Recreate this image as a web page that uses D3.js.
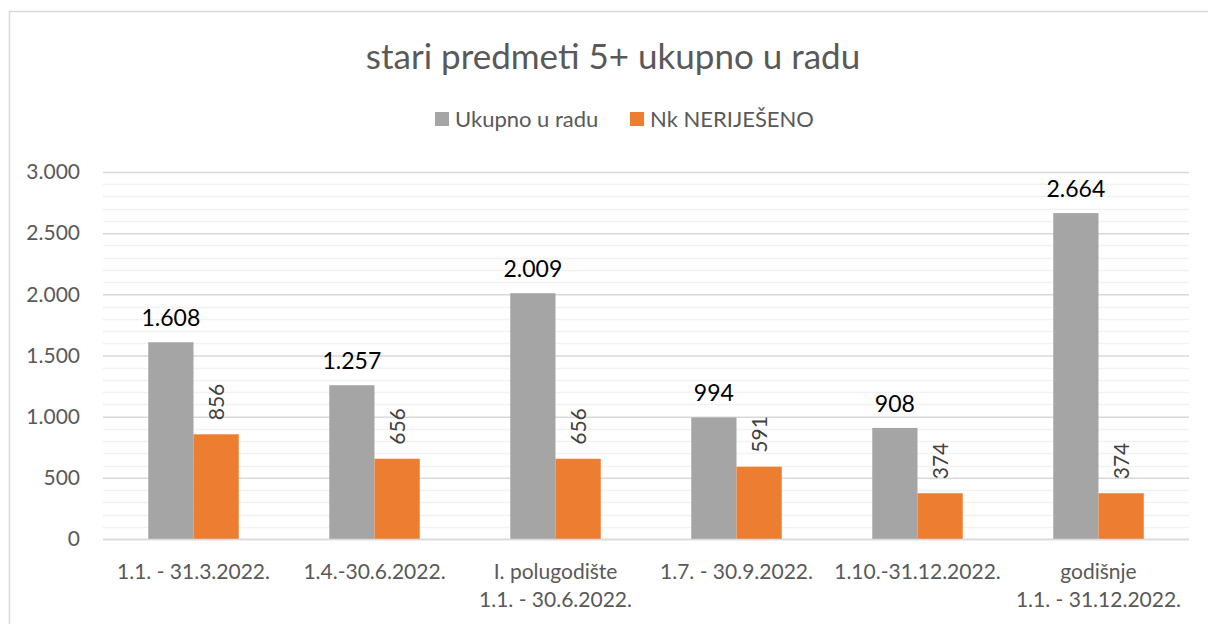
<!DOCTYPE html>
<html lang="hr">
<head>
<meta charset="utf-8">
<title>stari predmeti 5+</title>
<script src="https://d3js.org/d3.v7.min.js"></script>
<style>
  body{margin:0;background:#fff;font-family:Lato,"Open Sans",sans-serif;}
</style>
</head>
<body>
<div id="chart"></div>
<script>
// data
var categories = [["1.1. - 31.3.2022."], ["1.4.-30.6.2022."], ["I. polugodište", "1.1. - 30.6.2022."],
                  ["1.7. - 30.9.2022."], ["1.10.-31.12.2022."], ["godišnje", "1.1. - 31.12.2022."]]
var ukupno = [1608, 1257, 2009, 994, 908, 2664]
var nerijeseno = [856, 656, 656, 591, 374, 374]
var seriesNames = ["Ukupno u radu", "Nk NERIJEŠENO"]
var yTicks = [0, 500, 1000, 1500, 2000, 2500, 3000]

var W = 1208, H = 624
var plotL = 103, plotR = 1189, plotT = 172, plotB = 539
var colors = ["#a5a5a5", "#ed7d31"]
var fmt = function(v){ return d3.format(",")(v).replace(/,/g, ".") }

var svg = d3.select("#chart").append("svg").attr("width", W).attr("height", H)

// chart frame
svg.append("rect").attr("x", 9.5).attr("y", 11.5).attr("width", 1220).attr("height", 640)
   .attr("fill", "#fff").attr("stroke", "#d9d9d9").attr("stroke-width", 1.5)

var x = d3.scaleBand().domain(d3.range(categories.length)).range([plotL, plotR])
var y = d3.scaleLinear().domain([0, 3000]).range([plotB, plotT])
var barW = x.bandwidth() / 4

// minor gridlines
svg.append("g").selectAll("line").data(d3.range(100, 3001, 100).filter(function(v){ return v % 500 != 0 }))
   .enter().append("line")
   .attr("x1", plotL).attr("x2", plotR)
   .attr("y1", function(d){ return Math.round(y(d)) + 0.5 })
   .attr("y2", function(d){ return Math.round(y(d)) + 0.5 })
   .attr("stroke", "#f2f2f2").attr("stroke-width", 1.5)

// major gridlines + axis
var yAxis = d3.axisLeft(y).tickValues(yTicks).tickFormat(fmt).tickSize(-(plotR - plotL)).tickPadding(23)
var ga = svg.append("g").attr("transform", "translate(" + plotL + ",0)").call(yAxis)
ga.select(".domain").remove()
ga.selectAll(".tick line").attr("stroke", "#d9d9d9").attr("stroke-width", 1.5)
ga.selectAll(".tick text").attr("fill", "#595959").style("font-size", "21px").style("font-family", "Lato,'Open Sans',sans-serif")

// bars
var groups = svg.append("g").selectAll("g").data(categories).enter().append("g")
  .attr("transform", function(d, i){ return "translate(" + (x(i) + x.bandwidth() / 2) + ",0)" })

groups.append("rect")
  .attr("x", -barW).attr("width", barW)
  .attr("y", function(d, i){ return y(ukupno[i]) })
  .attr("height", function(d, i){ return y(0) - y(ukupno[i]) })
  .attr("fill", colors[0])

groups.append("rect")
  .attr("x", 0).attr("width", barW)
  .attr("y", function(d, i){ return y(nerijeseno[i]) })
  .attr("height", function(d, i){ return y(0) - y(nerijeseno[i]) })
  .attr("fill", colors[1])

// value labels
groups.append("text")
  .attr("x", -barW / 2)
  .attr("y", function(d, i){ return y(ukupno[i]) - 16 })
  .attr("text-anchor", "middle")
  .attr("fill", "#000").style("font-size", "23px")
  .text(function(d, i){ return fmt(ukupno[i]) })

groups.append("text")
  .attr("transform", function(d, i){ return "translate(" + (barW / 2 + 8) + "," + (y(nerijeseno[i]) - 14) + ") rotate(-90)" })
  .attr("text-anchor", "start")
  .attr("fill", "#404040").style("font-size", "21px")
  .text(function(d, i){ return nerijeseno[i] })

// zero axis line
svg.append("line").attr("x1", plotL).attr("x2", plotR).attr("y1", plotB + 0.5).attr("y2", plotB + 0.5)
   .attr("stroke", "#d9d9d9").attr("stroke-width", 1.5)

// category labels
groups.append("text")
  .attr("text-anchor", "middle").attr("fill", "#595959").style("font-size", "21px")
  .selectAll("tspan").data(function(d){ return d }).enter().append("tspan")
  .attr("x", 0).attr("y", function(d, j){ return 579 + j * 28 })
  .text(function(d){ return d })

// title
svg.append("text").attr("x", 613).attr("y", 69).attr("text-anchor", "middle")
   .attr("fill", "#595959").style("font-size", "35px")
   .text("stari predmeti 5+ ukupno u radu")

// legend
var legX = [435, 630]
var leg = svg.append("g").selectAll("g").data(seriesNames).enter().append("g")
  .attr("transform", function(d, i){ return "translate(" + legX[i] + ",112)" })
leg.append("rect").attr("width", 14).attr("height", 14).attr("fill", function(d, i){ return colors[i] })
leg.append("text").attr("x", 20).attr("y", 15).attr("fill", "#595959").style("font-size", "22px")
   .text(function(d){ return d })
</script>
</body>
</html>
